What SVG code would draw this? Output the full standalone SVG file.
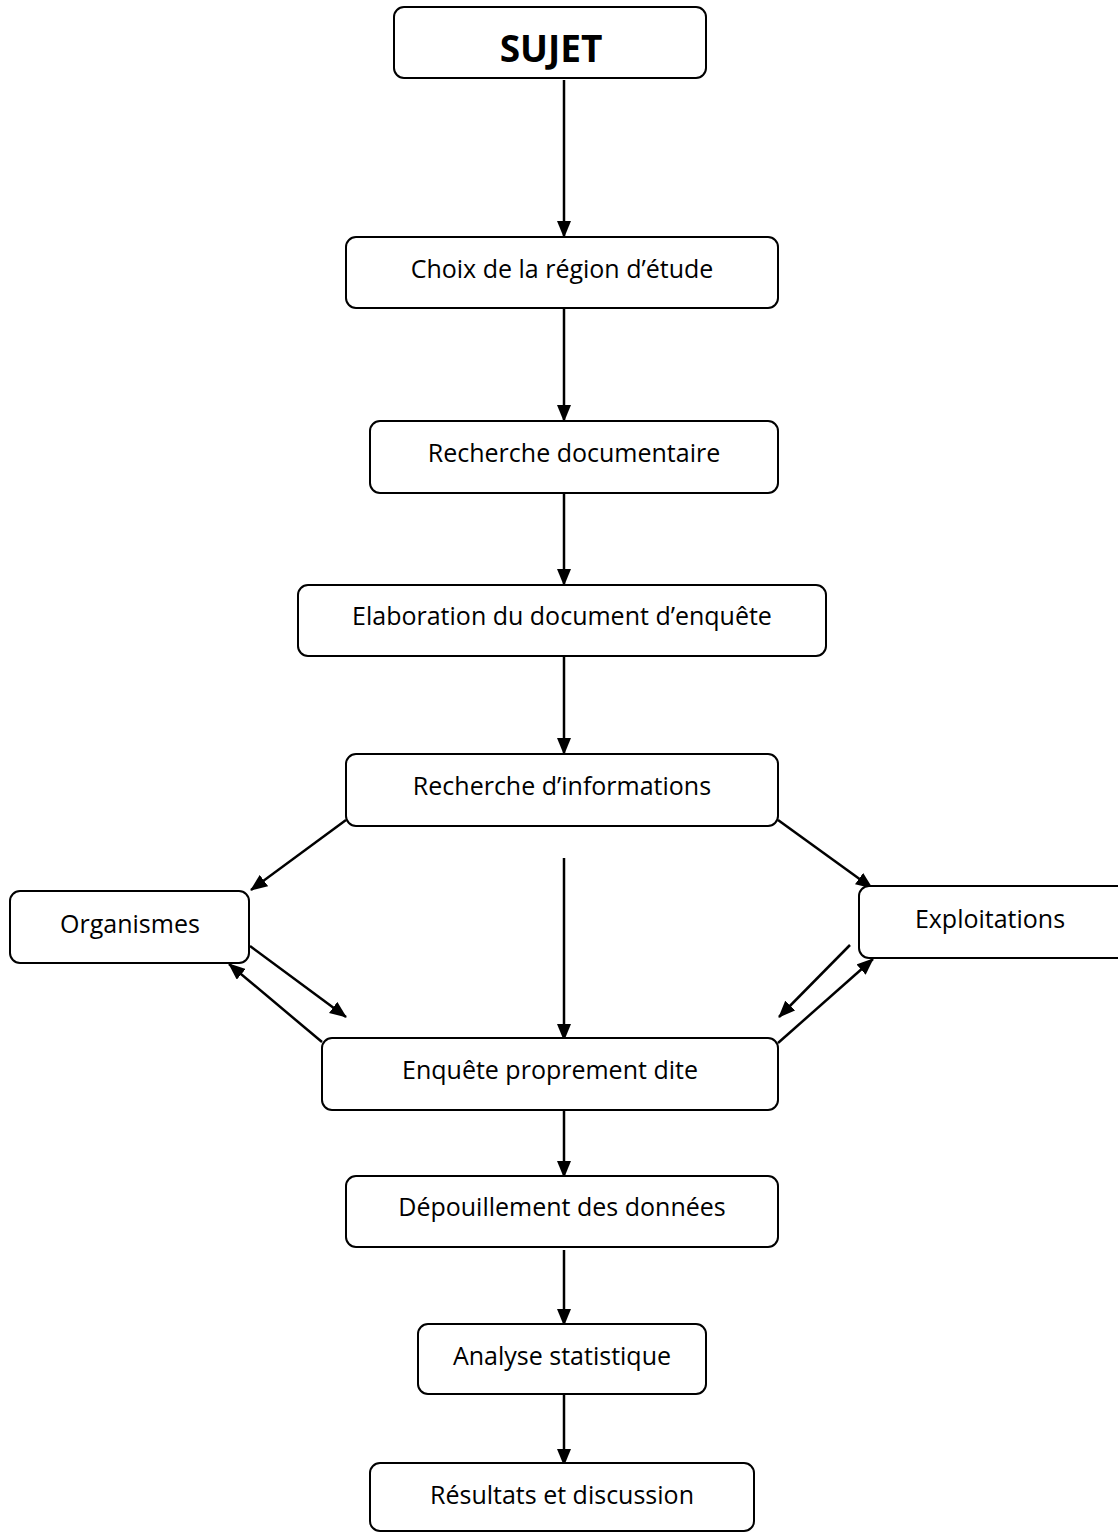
<svg xmlns="http://www.w3.org/2000/svg" width="1118" height="1532" viewBox="0 0 1118 1532">
<style>
.box{fill:#fff;stroke:#000;stroke-width:2}
.t{font-family:"Open Sans","Liberation Sans",sans-serif;font-size:25px;fill:#000;text-anchor:middle}
.b{font-family:"Open Sans","Liberation Sans",sans-serif;font-size:37px;font-weight:bold;fill:#000;text-anchor:middle}
.c{stroke:#000;stroke-width:2.5;fill:none;marker-end:url(#ah)}
</style>
<defs>
<marker id="ah" markerWidth="17" markerHeight="14" refX="16" refY="7" orient="auto" markerUnits="userSpaceOnUse">
<path d="M0,0 L17,7 L0,14 Z" fill="#000"/>
</marker>
</defs>
<rect width="1118" height="1532" fill="#fff"/>
<g id="connectors">
<line class="c" x1="564" y1="80" x2="564" y2="237"/>
<line class="c" x1="564" y1="308" x2="564" y2="421"/>
<line class="c" x1="564" y1="493" x2="564" y2="585"/>
<line class="c" x1="564" y1="656" x2="564" y2="754"/>
<line class="c" x1="346" y1="820" x2="251" y2="890"/>
<line class="c" x1="778" y1="820" x2="872" y2="888"/>
<line class="c" x1="564" y1="858" x2="564" y2="1040"/>
<line class="c" x1="250" y1="946" x2="346" y2="1017"/>
<line class="c" x1="322" y1="1042" x2="229" y2="964"/>
<line class="c" x1="850" y1="945" x2="779" y2="1017"/>
<line class="c" x1="778" y1="1043" x2="873" y2="959"/>
<line class="c" x1="564" y1="1107" x2="564" y2="1177"/>
<line class="c" x1="564" y1="1250" x2="564" y2="1325"/>
<line class="c" x1="564" y1="1394" x2="564" y2="1465"/>
</g>
<g id="n-sujet"><rect class="box" x="394" y="7" width="312" height="71" rx="10"/><text class="b" x="551" y="62">SUJET</text></g>
<g id="n-choix"><rect class="box" x="346" y="237" width="432" height="71" rx="10"/><text class="t" x="562" y="278">Choix de la région d’étude</text></g>
<g id="n-recherche-doc"><rect class="box" x="370" y="421" width="408" height="72" rx="10"/><text class="t" x="574" y="462">Recherche documentaire</text></g>
<g id="n-elaboration"><rect class="box" x="298" y="585" width="528" height="71" rx="10"/><text class="t" x="562" y="625">Elaboration du document d’enquête</text></g>
<g id="n-recherche-info"><rect class="box" x="346" y="754" width="432" height="72" rx="10"/><text class="t" x="562" y="795">Recherche d’informations</text></g>
<g id="n-organismes"><rect class="box" x="10" y="891" width="239" height="72" rx="10"/><text class="t" x="130" y="933">Organismes</text></g>
<g id="n-exploitations"><rect class="box" x="859" y="886" width="270" height="72" rx="10"/><text class="t" x="990" y="928">Exploitations</text></g>
<g id="n-enquete"><rect class="box" x="322" y="1038" width="456" height="72" rx="10"/><text class="t" x="550" y="1079">Enquête proprement dite</text></g>
<g id="n-depouillement"><rect class="box" x="346" y="1176" width="432" height="71" rx="10"/><text class="t" x="562" y="1216">Dépouillement des données</text></g>
<g id="n-analyse"><rect class="box" x="418" y="1324" width="288" height="70" rx="10"/><text class="t" x="562" y="1365">Analyse statistique</text></g>
<g id="n-resultats"><rect class="box" x="370" y="1463" width="384" height="68" rx="10"/><text class="t" x="562" y="1504">Résultats et discussion</text></g>
</svg>
